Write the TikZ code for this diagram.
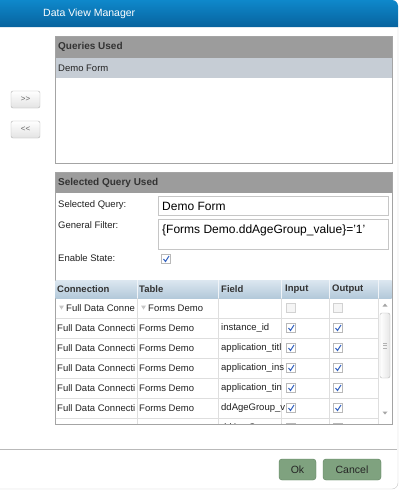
\documentclass[tikz,border=0pt]{standalone}
\usepackage{fontspec}
\setmainfont{Liberation Sans}
\usetikzlibrary{positioning}

\definecolor{titletop}{HTML}{0E88CB}
\definecolor{titlebot}{HTML}{08639E}
\definecolor{headgray}{HTML}{9C9C9C}
\definecolor{panelline}{HTML}{A4A4A4}
\definecolor{selrow}{HTML}{C6CDD5}
\definecolor{gridline}{HTML}{DEDEDE}
\definecolor{thtop}{HTML}{DCE7F0}
\definecolor{thbot}{HTML}{B3C9DA}
\definecolor{textdark}{HTML}{222222}
\definecolor{tickblue}{HTML}{2F5FBF}
\definecolor{okfill}{HTML}{7FA27F}
\definecolor{okline}{HTML}{5E815E}

\begin{document}
\begin{tikzpicture}[x=1pt,y=-1pt,font=\fontsize{9.5}{10}\selectfont,text=textdark]
	\tikzstyle{panel} = [draw=panelline, fill=white];
	\tikzstyle{head} = [fill=headgray];
	\tikzstyle{headtxt} = [anchor=west, inner sep=0pt, font={\fontsize{10}{11}\selectfont\bfseries}, text=black!80];
	\tikzstyle{lbl} = [anchor=west, inner sep=0pt];
	\tikzstyle{field} = [draw=gray!45, fill=white];
	\tikzstyle{fieldtxt} = [anchor=west, inner sep=0pt, font={\fontsize{12}{13}\selectfont}, text=black];
	\tikzstyle{movebtn} = [draw=gray!60, rounded corners=2pt, top color=white, bottom color=gray!22, minimum width=29pt, minimum height=17pt, inner sep=0pt, font={\fontsize{8}{9}\selectfont}, text=gray!80!black];
	\tikzstyle{chk} = [draw=gray!55, fill=white, minimum size=9pt, inner sep=0pt];
	\tikzstyle{tick} = [tickblue, line width=1pt];
	\tikzstyle{coltxt} = [anchor=west, inner sep=0pt, font={\fontsize{9.5}{10}\selectfont\bfseries}, text=black!80];
	\tikzstyle{greenbtn} = [draw=okline, fill=okfill, rounded corners=3pt, minimum height=21pt, inner sep=0pt, font={\fontsize{10.5}{12}\selectfont}, text=black!85];

	\useasboundingbox (0,0) rectangle (400,491);

	% dialog
	\fill[white] (0,27) -- (398,27) [rounded corners=6pt] -- (398,489) [sharp corners] -- (0,489) -- cycle;
	\draw[gray!45] (398,27) [rounded corners=6pt] -- (398,489) [sharp corners] -- (0,489);
	\shade[top color=titletop, bottom color=titlebot] (0,27) -- (0,0) [rounded corners=6pt] -- (398,0) [sharp corners] -- (398,27) -- cycle;
	\node[lbl, text=white, font={\fontsize{10.5}{12}\selectfont}] (title) at (43,14) {Data View Manager};

	% move buttons
	\node[movebtn] (add) at (25.5,99.5) {>{}>};
	\node[movebtn] (remove) at (25.5,129.5) {<{}<};

	% queries used
	\draw[panel] (55,36) rectangle (392,163);
	\fill[head] (55.5,36.5) rectangle (391.5,58);
	\node[headtxt] (qhead) at (58,47) {Queries Used};
	\fill[selrow] (55.5,58) rectangle (391.5,78);
	\node[lbl] (qrow) at (58,68) {Demo Form};

	% selected query used
	\draw[panel] (55,172) rectangle (392,424);
	\fill[head] (55.5,172.5) rectangle (391.5,193);
	\node[headtxt] (shead) at (58,183) {Selected Query Used};

	\node[lbl] (lquery) at (58,205) {Selected Query:};
	\node[lbl] (lfilter) at (58,225) {General Filter:};
	\node[lbl] (lstate) at (58,258) {Enable State:};

	\draw[field] (158,196) rectangle (388,215);
	\node[fieldtxt] (query) at (162,206) {Demo Form};
	\draw[field] (158,219) rectangle (388,249);
	\node[fieldtxt] (filter) at (162,230) {\{Forms Demo.ddAgeGroup\_value\}='1'};

	\node[chk] (state) at (166,259) {};
	\draw[tick] ([shift={(-2.5,0)}]state.center) -- ([shift={(-0.5,2.5)}]state.center) -- ([shift={(3,-3)}]state.center);

	% table header
	\shade[top color=thtop, bottom color=thbot] (55.5,280) rectangle (391.5,298);
	\foreach \x in {137,218,281,329,378}
		\draw[white!80!thbot] (\x,280) -- (\x,298);
	\node[coltxt] (hcon) at (57,289) {Connection};
	\node[coltxt] (htab) at (139,289) {Table};
	\node[coltxt] (hfld) at (221,289) {Field};
	\node[coltxt] (hin) at (285,289) {Input};
	\node[coltxt] (hout) at (332,289) {Output};

	% table body
	\begin{scope}
		\clip (55.5,298) rectangle (391.5,423.5);
		\foreach \y in {318,338,...,418}
			\draw[gridline] (55.5,\y) -- (378,\y);
		\foreach \x in {137,218,281,329,378}
			\draw[gridline] (\x,298) -- (\x,424);

		% group row
		\fill[gray!45] (59,305.5) -- (64,305.5) -- (61.5,309.5) -- cycle;
		\fill[gray!45] (141,305.5) -- (146,305.5) -- (143.5,309.5) -- cycle;
		\node[lbl] (g1) at (66,308) {Full Data Conne};
		\node[lbl] (g2) at (148,308) {Forms Demo};
		\node[chk, fill=gray!8, draw=gray!35] (gin) at (291,308) {};
		\node[chk, fill=gray!8, draw=gray!35] (gout) at (338,308) {};

		% field rows
		\foreach \f [count=\i] in {instance\_id, application\_titl, application\_ins, application\_tin, ddAgeGroup\_v, ddAgeGroup\_t} {
			\pgfmathsetmacro{\ry}{308+20*\i}
			\node[lbl] (c\i) at (57,\ry) {Full Data Connecti};
			\node[lbl] (t\i) at (139,\ry) {Forms Demo};
			\node[lbl] (f\i) at (221,\ry) {\f};
			\node[chk] (in\i) at (291,\ry) {};
			\node[chk] (out\i) at (338,\ry) {};
			\draw[tick] ([shift={(-2.5,0)}]in\i.center) -- ([shift={(-0.5,2.5)}]in\i.center) -- ([shift={(3,-3)}]in\i.center);
			\draw[tick] ([shift={(-2.5,0)}]out\i.center) -- ([shift={(-0.5,2.5)}]out\i.center) -- ([shift={(3,-3)}]out\i.center);
		}
	\end{scope}

	% scrollbar
	\fill[gray!70] (382.5,306.5) -- (387.5,306.5) -- (385,303.5) -- cycle;
	\draw[gray!55, top color=white, bottom color=gray!20, shading angle=90, rounded corners=2pt] (380,313) rectangle (390,378);
	\foreach \y in {343,345.5,348}
		\draw[gray!60] (383,\y) -- (387,\y);
	\fill[gray!70] (382.5,411.5) -- (387.5,411.5) -- (385,414.5) -- cycle;

	% footer
	\draw[gray!55, line width=0.8pt] (0,449) -- (397,449);
	\node[greenbtn, minimum width=37pt] (ok) at (297.5,469.5) {Ok};
	\node[greenbtn, minimum width=58pt] (cancel) at (352,469.5) {Cancel};
\end{tikzpicture}
\end{document}
